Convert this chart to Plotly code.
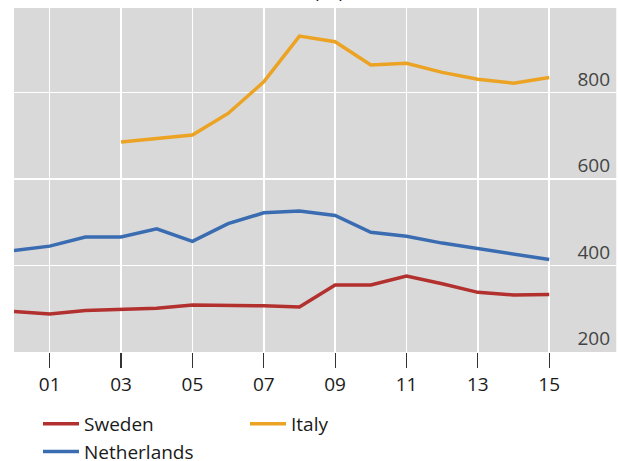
import plotly.graph_objects as go

years = list(range(2000, 2016))
italy_years = list(range(2003, 2016))

sweden = [294, 288, 296, 299, 301, 309, 309, 307, 304, 355, 355, 376, 358, 338, 332, 333]
netherlands = [435, 445, 466, 466, 485, 456, 497, 522, 526, 516, 477, 468, 452, 439, 425, 414]
italy = [686, 693, 702, 752, 825, 931, 918, 864, 868, 847, 831, 822, 835]

x_tickvals = [2001, 2003, 2005, 2007, 2009, 2011, 2013, 2015]
x_ticktext = ["01", "03", "05", "07", "09", "11", "13", "15"]
y_tickvals = [200, 400, 600, 800]

FONT = "Open Sans"

fig = go.Figure()
fig.add_trace(go.Scatter(x=years, y=sweden, name="Sweden", mode="lines",
                         line=dict(color="#b2302e", width=3.5)))
fig.add_trace(go.Scatter(x=italy_years, y=italy, name="Italy", mode="lines",
                         line=dict(color="#eca323", width=3.5)))
fig.add_trace(go.Scatter(x=years, y=netherlands, name="Netherlands", mode="lines",
                         line=dict(color="#3a6cb2", width=3.5)))

fig.update_layout(
    width=618, height=461,
    margin=dict(l=14, r=1, t=8, b=109, autoexpand=False),
    paper_bgcolor="white",
    plot_bgcolor="#d9d9d9",
    font=dict(family=FONT, size=19, color="#1a1a1a"),
    showlegend=True,
    legend=dict(orientation="h", x=38/618, xref="container", xanchor="left",
                y=1 - 405/461, yref="container", yanchor="top",
                entrywidth=156, traceorder="normal",
                font=dict(size=19), itemwidth=36, tracegroupgap=0),
    xaxis=dict(range=[2000, 2016.9], tickvals=x_tickvals, ticktext=x_ticktext,
               ticks="outside", ticklen=15, tickwidth=1.2, tickcolor="#333333",
               showgrid=True, gridcolor="white", gridwidth=1.5, automargin=False,
               zeroline=False, showline=False, fixedrange=True),
    yaxis=dict(range=[200, 996], tickvals=y_tickvals, side="right",
               ticklabelposition="inside top", ticks="", automargin=False,
               ticklabelstandoff=4,
               showgrid=True, gridcolor="white", gridwidth=1.5,
               zeroline=False, showline=False, fixedrange=True),
)

fig.add_shape(type="line", xref="paper", yref="paper", x0=1, x1=1, y0=0, y1=1,
              line=dict(color="white", width=1.5))

fig.add_annotation(text="population", xref="paper", yref="paper",
                   x=(313 - 14) / 603, y=1 + 3.5 / 344, xanchor="left", yanchor="bottom",
                   showarrow=False, font=dict(size=19, color="#1a1a1a"))

fig.write_html(
    "out.html",
    config={"displayModeBar": False, "staticPlot": True},
    post_script=(
        "document.body.style.margin='0';document.body.style.overflow='hidden';"
        "document.documentElement.style.overflow='hidden';"
    ),
)
